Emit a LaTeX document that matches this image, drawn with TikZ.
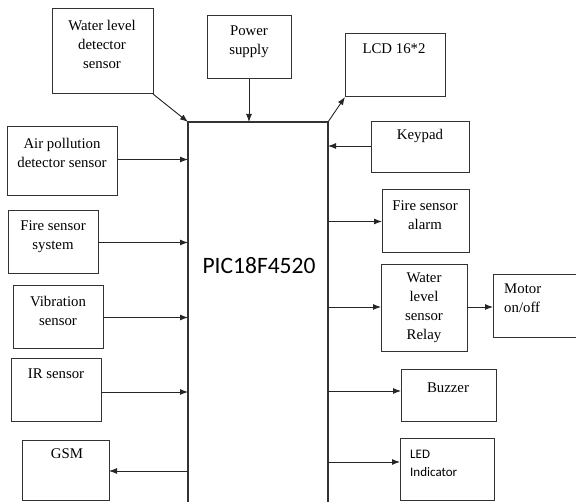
\documentclass[tikz,border=0pt]{standalone}
\usepackage{fontspec}
\setmainfont{Liberation Serif}
\newfontfamily\calib{Carlito}
\usetikzlibrary{arrows.meta}
\tikzset{
  blk/.style={draw=black!80, line width=1pt, anchor=north west, inner sep=0pt, outer sep=0pt},
  txt/.style={align=center, inner sep=0pt, font=\fontsize{14.8}{19}\selectfont},
  arr/.style={draw=black!85, line width=0.9pt, -{Latex[length=8pt,width=6pt]}},
}
\begin{document}
\begin{tikzpicture}[x=1pt,y=-1pt]
\useasboundingbox (0,0) rectangle (576,502);
% main controller
\node[blk, line width=1.3pt, minimum width=140pt, minimum height=392pt] (pic) at (188,122) {};
\node[inner sep=0pt, font=\calib\fontsize{23.5}{28}\selectfont] (pict) at (259,266) {PIC18F4520};
% left / top blocks
\node[blk, minimum width=101pt, minimum height=85pt] (wlds) at (52,9) {};
\node[txt] (wldst) at (102,44) {Water level\\detector\\sensor};
\node[blk, minimum width=84pt, minimum height=63pt] (ps) at (207,16) {};
\node[txt] (pst) at (249,42) {Power\\supply};
\node[blk, minimum width=100pt, minimum height=63pt] (lcd) at (345,34) {};
\node[txt] (lcdt) at (394,49) {LCD 16*2};
\node[blk, minimum width=110pt, minimum height=69pt] (air) at (7,127) {};
\node[txt] (airt) at (62,153) {Air pollution\\detector sensor};
\node[blk, minimum width=90pt, minimum height=63pt] (fss) at (8,211) {};
\node[txt] (fsst) at (53,237) {Fire sensor\\system};
\node[blk, minimum width=90pt, minimum height=63pt] (vib) at (13,286) {};
\node[txt] (vibt) at (58,311) {Vibration\\sensor};
\node[blk, minimum width=90pt, minimum height=63pt] (ir) at (11,359) {};
\node[txt] (irt) at (56,374) {IR sensor};
\node[blk, minimum width=87pt, minimum height=60pt] (gsm) at (22,441) {};
\node[txt] (gsmt) at (67,454) {GSM};
% right blocks
\node[blk, minimum width=98pt, minimum height=51pt] (key) at (371,122) {};
\node[txt] (keyt) at (420,136) {Keypad};
\node[blk, minimum width=87pt, minimum height=63pt] (fsa) at (382,190) {};
\node[txt] (fsat) at (425,215) {Fire sensor\\alarm};
\node[blk, minimum width=86pt, minimum height=87pt] (wlr) at (381,265) {};
\node[txt] (wlrt) at (424,308) {Water\\level\\sensor\\Relay};
\node[blk, minimum width=86pt, minimum height=63pt] (mot) at (493,275) {};
\node[txt, align=left, anchor=west] (mott) at (504,298) {Motor\\on/off};
\node[blk, minimum width=95pt, minimum height=52pt] (buz) at (401,370) {};
\node[txt] (buzt) at (448,388) {Buzzer};
\node[blk, minimum width=94pt, minimum height=62pt] (led) at (400,439) {};
\node[txt, align=left, anchor=west, font=\calib\fontsize{13}{18}\selectfont] (ledt) at (410,463) {LED\\Indicator};
% connectors
\draw[arr] (wlds.south east) -- (pic.north west);
\draw[arr] (ps.south) -- (ps.south |- pic.north);
\draw[arr] (pic.north east) -- (lcd.south west);
\draw[arr] ([yshift=2pt]air.east) -- ([yshift=2pt]air.east -| pic.west);
\draw[arr] (fss.east) -- (fss.east -| pic.west);
\draw[arr] (vib.east) -- (vib.east -| pic.west);
\draw[arr] ([yshift=-1.5pt]ir.east) -- ([yshift=-1.5pt]ir.east -| pic.west);
\draw[arr] (gsm.east -| pic.west) -- (gsm.east);
\draw[arr] ([yshift=1.5pt]key.west) -- ([yshift=1.5pt]key.west -| pic.east);
\draw[arr] (fsa.west -| pic.east) -- (fsa.west);
\draw[arr] ([yshift=1.5pt]wlr.west -| pic.east) -- ([yshift=1.5pt]wlr.west);
\draw[arr] ([yshift=1.5pt]wlr.east) -- ([yshift=1.5pt]wlr.east -| mot.west);
\draw[arr] ([yshift=5pt]buz.west -| pic.east) -- ([yshift=5pt]buz.west);
\draw[arr] ([yshift=8pt]led.west -| pic.east) -- ([yshift=8pt]led.west);
\end{tikzpicture}
\end{document}
